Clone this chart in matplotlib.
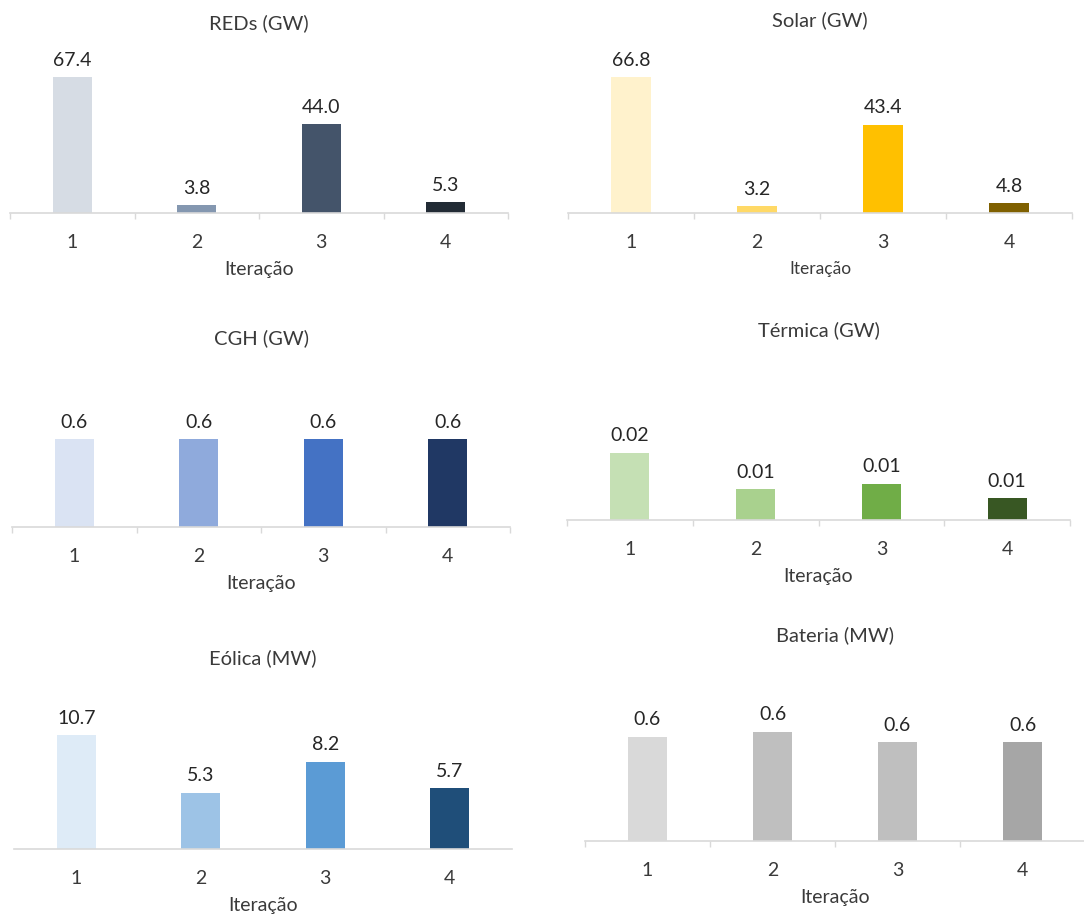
import matplotlib.pyplot as plt

# dados (4 iterações)
iteracoes = [1, 2, 3, 4]
tick_labels = ['1', '2', '3', '4']

reds_gw = [67.4, 3.8, 44.0, 5.3]
solar_gw = [66.8, 3.2, 43.4, 4.8]
cgh_gw = [0.6, 0.6, 0.6, 0.6]
termica_gw = [0.018, 0.0083, 0.0097, 0.0059]
eolica_mw = [10.7, 5.3, 8.2, 5.7]
bateria_mw = [0.60, 0.63, 0.57, 0.57]

titulos = ['REDs (GW)', 'Solar (GW)', 'CGH (GW)',
           'Térmica (GW)', 'Eólica (MW)', 'Bateria (MW)']
series = [reds_gw, solar_gw, cgh_gw, termica_gw, eolica_mw, bateria_mw]
formatos = ['{:.1f}', '{:.1f}', '{:.1f}', '{:.2f}', '{:.1f}', '{:.1f}']

cores = [
    ['#D6DCE4', '#8497B0', '#44546A', '#222B35'],
    ['#FFF2CC', '#FFD966', '#FFC000', '#7F6000'],
    ['#DAE3F3', '#8FAADC', '#4472C4', '#203864'],
    ['#C5E0B4', '#A9D18E', '#70AD47', '#385723'],
    ['#DEEBF7', '#9DC3E6', '#5B9BD5', '#1F4E79'],
    ['#D9D9D9', '#BFBFBF', '#BFBFBF', '#A6A6A6'],
]

W, H = 1084, 916
# layout em pixels: esquerda, direita, linha do eixo, topo do eixo, y do título, ymax
layout = [
    (10, 508, 213, 52, 23, 80),
    (568, 1072, 213, 50, 20, 80),
    (12, 510, 527, 410, 338, 0.8),
    (567, 1070, 520, 408, 330, 0.03),
    (14, 512, 849, 700, 658, 14),
    (585, 1085, 841, 702, 635, 0.8),
]

plt.rcParams['font.family'] = ['Lato', 'DejaVu Sans']
TXT = '#3A3A3A'
LINHA = '#D9D9D9'

fig = plt.figure(figsize=(W / 100, H / 100), dpi=100)

for i, (titulo, valores, fmt, cor) in enumerate(zip(titulos, series, formatos, cores)):
    left, right, axis_y, top, title_y, ymax = layout[i]
    ax = fig.add_axes([left / W, 1 - axis_y / H, (right - left) / W, (axis_y - top) / H])

    bars = ax.bar(iteracoes, valores, width=0.31, color=cor)
    ax.bar_label(bars, labels=[fmt.format(v) for v in valores],
                 padding=6, fontsize=14, color='#262626')

    ax.set_xlim(0.5, 4.5)
    ax.set_ylim(0, ymax)
    ax.set_xticks(iteracoes)
    ax.set_xticklabels(tick_labels)
    ax.set_xticks([0.5, 1.5, 2.5, 3.5, 4.5], minor=True)
    ax.tick_params(axis='x', which='major', length=0, pad=15, labelsize=14, labelcolor=TXT)
    sep = 0 if titulo.startswith('Eólica') else 4
    ax.tick_params(axis='x', which='minor', length=sep, width=1, color=LINHA)
    ax.get_yaxis().set_visible(False)

    for s in ['top', 'left', 'right']:
        ax.spines[s].set_visible(False)
    ax.spines['bottom'].set_color(LINHA)
    ax.spines['bottom'].set_linewidth(1.2)

    tam_label = 12.5 if titulo.startswith('Solar') else 14
    ax.set_xlabel('Iteração', fontsize=tam_label, color=TXT, labelpad=7)
    ax.set_title(titulo, fontsize=14.5, color=TXT, pad=0, va='center',
                 y=(axis_y - title_y) / (axis_y - top))

fig.savefig('out.png', dpi=100)
